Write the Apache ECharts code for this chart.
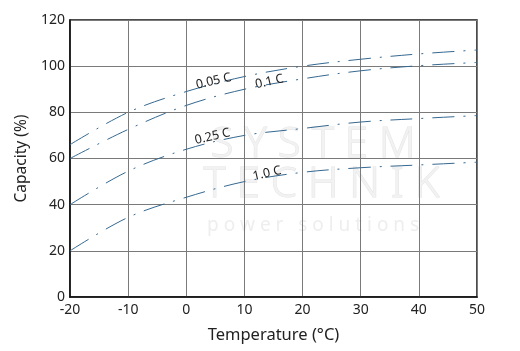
<!DOCTYPE html>
<html>
<head>
<meta charset="utf-8">
<script src="https://cdn.jsdelivr.net/npm/echarts@6/dist/echarts.min.js"></script>
<style>
  html, body { margin: 0; padding: 0; background: #fff; }
  #chart { width: 520px; height: 351px; }
</style>
</head>
<body>
<div id="chart"></div>
<script>
// temperature (°C) and capacity (%)
const temps = [-20, -10, 0, 10, 20, 30, 40, 50];
const cap005 = [66, 80, 89, 95.5, 100, 103, 105.3, 107];
const cap01 = [60, 72.6, 83, 90, 94.5, 98, 100.2, 101.6];
const cap025 = [40, 54.5, 64, 70, 73, 75.8, 77.3, 78.6];
const cap10 = [20, 34.5, 43.2, 50, 54, 56, 57.2, 58.4];
const curveNames = ['0.05 C', '0.1 C', '0.25 C', '1.0 C'];

const lineColor = '#356890';
const font = 'Noto Sans';

const chart = echarts.init(document.getElementById('chart'));

// label anchor (in data units) for each curve name
const labelAt = [[4.7, 93.5], [14.3, 93.3], [4.5, 69.5], [13.9, 53.5]];

const makeSeries = (name, values, i) => ({
  name: name,
  type: 'line',
  smooth: 0.35,
  symbol: 'none',
  data: temps.map((t, k) => [t, values[k]]),
  lineStyle: { color: lineColor, width: 1, type: [22, 9, 2, 9] },
  markPoint: {
    symbol: 'rect',
    symbolSize: 1,
    itemStyle: { color: 'rgba(0,0,0,0)' },
    label: {
      show: true,
      formatter: name,
      rotate: 13,
      color: '#222',
      fontFamily: font,
      fontSize: 12.5,
      position: 'inside'
    },
    data: [{ coord: labelAt[i] }]
  }
});

const option = {
  animation: false,
  grid: { left: 70, right: 43, top: 20, bottom: 54, show: true, borderColor: '#111', borderWidth: 1.5 },
  graphic: [
    { type: 'text', left: 210, top: 124, silent: true, z: 0,
      style: { text: 'S Y S T E M', font: '300 42px ' + font, fill: '#f2f2f2', stroke: '#e4e4e4', lineWidth: 1 } },
    { type: 'text', left: 203, top: 164, silent: true, z: 0,
      style: { text: 'T E C H N I K', font: '300 42px ' + font, fill: '#f2f2f2', stroke: '#e4e4e4', lineWidth: 1 } },
    { type: 'text', left: 207, top: 216, silent: true, z: 0,
      style: { text: 'p o w e r   s o l u t i o n s', font: '19px ' + font, fill: '#eeeeee' } }
  ],
  xAxis: {
    type: 'value',
    min: -20, max: 50, interval: 10,
    name: 'Temperature (°C)',
    nameLocation: 'middle',
    nameGap: 30,
    nameTextStyle: { color: '#222', fontSize: 16.5, fontFamily: font },
    axisLine: { onZero: false, lineStyle: { color: '#111', width: 1.5 } },
    axisTick: { show: false },
    axisLabel: { color: '#222', fontSize: 14, fontFamily: font, margin: 6 },
    splitLine: { lineStyle: { color: '#7a7a7a', width: 1 } }
  },
  yAxis: {
    type: 'value',
    min: 0, max: 120, interval: 20,
    name: 'Capacity (%)',
    nameLocation: 'middle',
    nameGap: 40,
    nameTextStyle: { color: '#222', fontSize: 15.5, fontFamily: font },
    axisLine: { show: true, onZero: false, lineStyle: { color: '#111', width: 1.5 } },
    axisTick: { show: false },
    axisLabel: { color: '#222', fontSize: 14, fontFamily: font, margin: 5 },
    splitLine: { lineStyle: { color: '#7a7a7a', width: 1 } }
  },
  series: [
    makeSeries(curveNames[0], cap005, 0),
    makeSeries(curveNames[1], cap01, 1),
    makeSeries(curveNames[2], cap025, 2),
    makeSeries(curveNames[3], cap10, 3)
  ]
};

chart.setOption(option);
</script>
</body>
</html>
